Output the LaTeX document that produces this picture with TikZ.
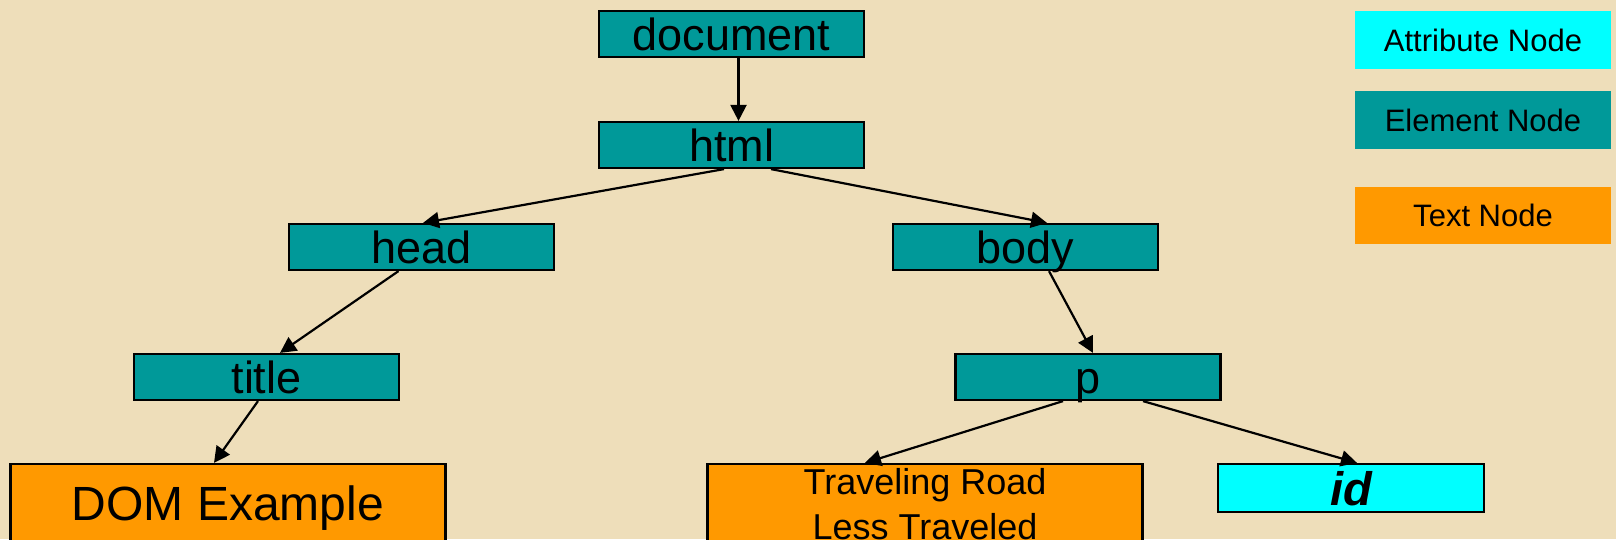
\documentclass[tikz,border=0pt]{standalone}
\usepackage{fontspec}
\setmainfont{Liberation Sans}
\usepackage{xcolor}
\usetikzlibrary{arrows.meta}

\definecolor{parchment}{RGB}{238,222,186}
\definecolor{elemteal}{RGB}{0,153,153}
\definecolor{textorange}{RGB}{255,153,0}
\definecolor{attrcyan}{RGB}{0,255,255}

\tikzset{
	box/.style = {draw, line width = 2.2pt, inner xsep = 0pt, inner ysep = 0pt},
	elem/.style = {box, fill = elemteal, minimum width = 265pt, text height = 39pt, text depth = 7pt, font = \fontsize{45}{50}\selectfont},
	txt/.style = {box, fill = textorange, minimum width = 435pt, minimum height = 81pt},
	attr/.style = {box, fill = attrcyan, minimum width = 266pt, text height = 41pt, text depth = 7pt, font = \fontsize{47}{52}\selectfont\bfseries\itshape},
	key/.style = {minimum width = 256pt, minimum height = 58pt, inner sep = 0pt, text height = 22pt, text depth = 0pt, font = \fontsize{31}{36}\selectfont},
	link/.style = {line width = 2.2pt, -{Triangle[length = 16pt, width = 16pt]}}
}

\begin{document}
\begin{tikzpicture}[x = 1pt, y = -1pt]
		\useasboundingbox (0,0) rectangle (1616,539);
		\fill [parchment] (0,0) rectangle (1616,539);

		% tree
		\node [elem] (document) at (731.5,34) {document};
		\node [elem] (html) at (731.5,145) {html};
		\node [elem] (head) at (421.5,247) {head};
		\node [elem] (body) at (1025.5,247) {body};
		\node [elem] (title) at (266.5,377) {title};
		\node [elem] (p) at (1088,377) {p};
		\node [txt, text height = 56pt, text depth = 25pt, font = \fontsize{48}{52}\selectfont] (dom example) at (228,504.5) {DOM Example};
		\node [txt, align = center, font = \fontsize{36}{45}\selectfont] (road) at (925,504.5) {Traveling Road\\Less Traveled};
		\node [attr] (id) at (1351,488) {id};

		\draw [link] ([xshift = 7pt]document.south) -- ([xshift = 7pt]html.north);
		\draw [link] ([xshift = -7.5pt]html.south) -- ([xshift = 1.5pt]head.north);
		\draw [link] ([xshift = 39.5pt]html.south) -- ([xshift = 21.5pt]body.north);
		\draw [link] ([xshift = -23pt]head.south) -- ([xshift = 13.5pt]title.north);
		\draw [link] ([xshift = 23.5pt]body.south) -- ([xshift = 5pt]p.north);
		\draw [link] ([xshift = -8.5pt]title.south) -- ([xshift = -14pt]dom example.north);
		\draw [link] ([xshift = -25pt]p.south) -- ([xshift = -60pt]road.north);
		\draw [link] ([xshift = 55pt]p.south) -- ([xshift = 6pt]id.north);

		% legend
		\node [key, fill = attrcyan] (attribute key) at (1483,40) {Attribute Node};
		\node [key, fill = elemteal] (element key) at (1483,120) {Element Node};
		\node [key, fill = textorange, minimum height = 57pt] (text key) at (1483,215.5) {Text Node};
	\end{tikzpicture}
\end{document}
